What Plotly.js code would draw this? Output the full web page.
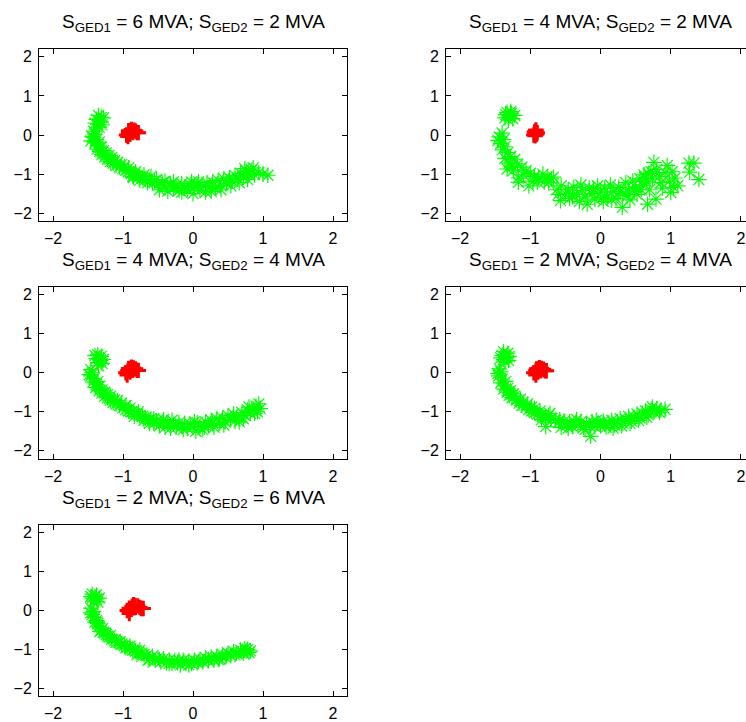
<!DOCTYPE html>
<html>
<head>
<meta charset="utf-8">
<script src="https://cdn.plot.ly/plotly-3.0.1.min.js"></script>
<style>
html,body{margin:0;padding:0;overflow:hidden;background:#fff;}
#chart{width:760px;height:722px;}
</style>
</head>
<body>
<div id="chart"></div>
<script>
// ---------- data ----------
const tickVals = [-2, -1, 0, 1, 2];

const titles = [
  "S<sub>GED1</sub> = 6 MVA; S<sub>GED2</sub> = 2 MVA",
  "S<sub>GED1</sub> = 4 MVA; S<sub>GED2</sub> = 2 MVA",
  "S<sub>GED1</sub> = 4 MVA; S<sub>GED2</sub> = 4 MVA",
  "S<sub>GED1</sub> = 2 MVA; S<sub>GED2</sub> = 4 MVA",
  "S<sub>GED1</sub> = 2 MVA; S<sub>GED2</sub> = 6 MVA"
];

// Panel 1 (6 / 2 MVA)
const gx1 = [-1.35,-1.31,-1.38,-1.32,-1.36,-1.30,-1.34,
  -1.40,-1.42,-1.38,-1.40,-1.36,-1.37,-1.33,-1.30,-1.26,-1.22,-1.18,-1.14,-1.10,-1.05,-1.00,-0.96,-0.92,-0.88,-0.84,-0.80,-0.76,-0.72,-0.68,-0.62,-0.58,-0.55,-0.50,-0.48,-0.44,-0.40,-0.36,-0.32,-0.28,-0.24,-0.20,-0.16,-0.12,-0.08,-0.04,0.00,0.02,0.06,0.10,0.14,0.18,0.20,0.24,0.28,0.32,0.36,0.40,0.44,0.48,0.52,0.56,0.60,0.64,0.68,0.72,0.76,0.80,0.84,0.88,0.94,1.00,1.07,
  -1.44,-1.34,-1.28,-1.20,-1.12,-1.02,-0.92,-0.82,-0.70,-0.85,-0.65,
  -1.42,-1.46,-1.32,-1.24,-1.16,-1.08,-0.98,-0.86,-0.76,-0.60,-0.52,-0.40,-0.28,-0.16,-0.02,0.08,0.26,0.40,0.54,0.66,0.78,0.86,0.74,-1.28,-1.40];
const gy1 = [0.50,0.45,0.40,0.34,0.28,0.26,0.20,
  0.02,-0.06,-0.12,-0.20,-0.28,-0.36,-0.42,-0.50,-0.56,-0.62,-0.68,-0.72,-0.78,-0.82,-0.86,-0.90,-0.94,-0.98,-1.00,-1.04,-1.06,-1.10,-1.14,-1.16,-1.22,-1.18,-1.28,-1.40,-1.22,-1.34,-1.44,-1.26,-1.36,-1.30,-1.42,-1.24,-1.34,-1.40,-1.28,-1.50,-1.34,-1.26,-1.42,-1.30,-1.46,-1.22,-1.34,-1.20,-1.36,-1.16,-1.28,-1.12,-1.24,-1.10,-1.18,-1.04,-1.12,-0.98,-1.08,-0.92,-1.00,-0.90,-1.02,-0.96,-1.00,-1.03,
  -0.05,-0.18,-0.40,-0.52,-0.66,-0.76,-0.84,-0.94,-1.02,-1.08,-1.22,
  0.10,-0.15,-0.32,-0.46,-0.58,-0.70,-0.80,-1.06,-1.16,-1.06,-1.14,-1.18,-1.20,-1.46,-1.20,-1.20,-1.44,-1.40,-1.30,-1.22,-1.14,-0.84,-0.86,0.44,0.30];
const rx1 = [-0.95,-0.92,-0.88,-0.84,-0.82,-0.90,-0.86,-0.93,-0.80,-0.78,-0.88,-0.92];
const ry1 = [0.00,0.06,0.10,0.12,0.10,0.02,0.06,-0.04,0.06,0.06,0.14,0.11];

// Panel 2 (4 / 2 MVA)
const gx2 = [-1.33,-1.27,-1.22,-1.30,-1.36,-1.25,-1.31,
  -1.40,-1.44,-1.38,-1.42,-1.36,-1.40,-1.32,-1.28,-1.36,-1.22,-1.30,-1.18,-1.33,-1.12,-1.24,-1.06,-1.17,-1.17,-1.00,-1.02,-0.94,-0.96,-0.88,-0.82,-0.80,-0.76,-0.70,-0.67,-0.62,
  -0.57,-0.56,-0.50,-0.46,-0.44,-0.38,-0.34,-0.30,-0.26,-0.22,-0.19,-0.16,-0.12,-0.08,-0.04,0.00,0.04,0.06,0.10,0.14,0.18,0.22,0.26,0.31,0.32,0.36,0.40,0.42,0.46,0.50,0.52,0.56,0.60,0.62,0.66,0.67,0.70,0.72,0.74,0.76,0.79,0.80,0.84,0.88,0.92,0.95,1.00,1.04,1.06,1.10,1.26,1.33,1.40,1.27,
  -1.28,-1.35,-1.46,-1.26,-1.10,-0.90,-0.74,-0.60,-0.40,-0.28,-0.10,0.02,0.16,0.28,0.38,0.48,0.58,0.64,0.68,0.86,0.98,1.02];
const gy2 = [0.58,0.56,0.50,0.48,0.44,0.42,0.38,
  0.05,-0.05,-0.12,-0.22,-0.30,-0.38,-0.45,-0.55,-0.60,-0.62,-0.72,-0.74,-0.87,-0.82,-0.90,-0.92,-1.10,-1.21,-0.98,-1.30,-1.06,-1.18,-1.10,-1.00,-1.20,-1.08,-1.12,-1.08,-1.40,
  -1.68,-1.30,-1.50,-1.40,-1.62,-1.34,-1.52,-1.70,-1.42,-1.58,-1.77,-1.36,-1.50,-1.64,-1.30,-1.46,-1.70,-1.36,-1.56,-1.28,-1.44,-1.62,-1.34,-1.85,-1.50,-1.22,-1.40,-1.66,-1.18,-1.34,-1.52,-1.12,-1.28,-1.02,-1.20,-1.77,-1.40,-0.94,-1.12,-0.70,-1.64,-0.88,-1.06,-1.36,-0.96,-0.78,-1.47,-1.34,-1.10,-1.30,-0.72,-0.72,-1.14,-0.95,
  0.60,0.52,-0.14,-0.80,-1.02,-1.20,-1.22,-1.52,-1.58,-1.28,-1.38,-1.60,-1.66,-1.46,-1.56,-1.44,-1.40,-1.10,-0.98,-1.22,-1.18,-0.94];
const rx2 = [-0.94,-0.92,-0.93,-0.91,-0.95,-0.90,-0.93,-0.92];
const ry2 = [0.08,0.10,0.04,0.02,0.00,0.06,-0.02,0.13];

// Panel 3 (4 / 4 MVA)
const gx3 = [-1.36,-1.31,-1.38,-1.32,-1.36,-1.30,-1.35,
  -1.44,-1.46,-1.41,-1.43,-1.38,-1.39,-1.34,-1.30,-1.26,-1.22,-1.18,-1.14,-1.10,-1.05,-1.00,-0.96,-0.92,-0.88,-0.84,-0.80,-0.76,-0.72,-0.68,-0.64,-0.60,-0.56,-0.52,-0.48,-0.44,-0.40,-0.36,-0.32,-0.28,-0.24,-0.20,-0.16,-0.12,-0.08,-0.04,0.00,0.04,0.06,0.10,0.14,0.18,0.22,0.26,0.30,0.34,0.38,0.42,0.46,0.50,0.54,0.58,0.62,0.66,0.70,0.74,0.78,0.82,0.86,0.90,0.92,0.96,0.94,
  -1.48,-1.36,-1.30,-1.22,-1.12,-1.02,-0.90,-0.78,-0.62,
  -1.46,-1.34,-1.26,-1.18,-1.08,-0.96,-0.84,-0.70,-0.56,-0.42,-0.30,-0.14,0.02,0.16,0.28,0.44,0.60,0.72,0.80,0.88,-1.40,-1.28];
const gy3 = [0.46,0.42,0.36,0.32,0.26,0.24,0.18,
  0.00,-0.08,-0.15,-0.24,-0.30,-0.38,-0.46,-0.52,-0.60,-0.64,-0.70,-0.76,-0.80,-0.84,-0.90,-0.94,-0.98,-1.00,-1.04,-1.06,-1.10,-1.12,-1.16,-1.22,-1.18,-1.30,-1.24,-1.36,-1.26,-1.40,-1.30,-1.42,-1.32,-1.40,-1.28,-1.38,-1.30,-1.42,-1.32,-1.40,-1.50,-1.28,-1.38,-1.46,-1.26,-1.36,-1.22,-1.40,-1.18,-1.30,-1.16,-1.26,-1.10,-1.20,-1.06,-1.14,-1.26,-1.02,-1.10,-0.96,-1.04,-0.94,-0.86,-1.00,-0.92,-0.80,
  -0.05,-0.22,-0.44,-0.56,-0.70,-0.78,-0.90,-1.00,-1.30,
  0.08,-0.36,-0.50,-0.60,-0.72,-0.84,-1.12,-1.22,-1.18,-1.20,-1.22,-1.46,-1.26,-1.40,-1.30,-1.34,-1.24,-1.18,-0.88,-1.04,0.44,0.34];
const rx3 = [-0.96,-0.93,-0.89,-0.85,-0.82,-0.90,-0.86,-0.94,-0.80,-0.78,-0.88,-0.92];
const ry3 = [0.00,0.06,0.10,0.12,0.10,0.02,0.06,-0.06,0.06,0.06,0.14,0.11];

// Panel 4 (2 / 4 MVA)
const gx4 = [-1.38,-1.32,-1.40,-1.34,-1.38,-1.31,-1.36,
  -1.42,-1.45,-1.40,-1.42,-1.37,-1.38,-1.33,-1.30,-1.26,-1.20,-1.16,-1.12,-1.06,-1.02,-0.98,-0.94,-0.90,-0.86,-0.82,-0.78,-0.78,-0.74,
  -0.60,-0.56,-0.52,-0.48,-0.44,-0.40,-0.36,-0.32,-0.28,-0.24,-0.20,-0.16,-0.14,-0.12,-0.08,-0.04,0.00,0.04,0.08,0.12,0.16,0.20,0.24,0.28,0.32,0.36,0.40,0.44,0.48,0.52,0.56,0.60,0.64,0.68,0.72,0.76,0.80,0.86,0.92,
  -1.46,-1.35,-1.28,-1.22,-1.10,-0.98,-0.86,-0.70,-0.64,
  -1.44,-1.32,-1.24,-1.14,-1.04,-0.94,-0.84,-0.72,-0.58,-0.46,-0.34,-0.22,-0.06,0.06,0.18,0.30,0.42,0.54,0.66,0.74,0.84,-1.42,-1.30];
const gy4 = [0.54,0.50,0.44,0.40,0.34,0.32,0.28,
  0.02,-0.08,-0.16,-0.26,-0.34,-0.42,-0.50,-0.58,-0.64,-0.70,-0.78,-0.84,-0.88,-0.94,-0.98,-1.02,-1.06,-1.10,-1.12,-1.16,-1.38,-1.10,
  -1.28,-1.40,-1.24,-1.34,-1.26,-1.38,-1.28,-1.36,-1.26,-1.40,-1.30,-1.36,-1.63,-1.26,-1.38,-1.30,-1.36,-1.24,-1.40,-1.30,-1.22,-1.34,-1.26,-1.18,-1.30,-1.20,-1.12,-1.24,-1.14,-1.06,-1.16,-1.04,-0.98,-1.08,-0.94,-1.00,-0.92,-0.96,-0.94,
  -0.02,-0.22,-0.46,-0.60,-0.76,-0.88,-0.98,-1.18,-1.22,
  0.10,-0.40,-0.54,-0.68,-0.80,-0.92,-1.20,-1.04,-1.20,-1.42,-1.20,-1.46,-1.22,-1.32,-1.42,-1.36,-1.30,-1.22,-1.14,-0.88,-1.02,0.38,0.42];
const rx4 = [-0.95,-0.92,-0.88,-0.84,-0.81,-0.89,-0.85,-0.92,-0.79,-0.77,-0.87,-0.91];
const ry4 = [0.00,0.06,0.10,0.11,0.09,0.02,0.05,-0.06,0.05,0.05,0.13,0.10];

// Panel 5 (2 / 6 MVA)
const gx5 = [-1.44,-1.38,-1.44,-1.38,-1.42,-1.36,-1.40,
  -1.42,-1.44,-1.41,-1.38,-1.36,-1.34,-1.31,-1.28,-1.24,-1.20,-1.16,-1.12,-1.07,-1.02,-0.98,-0.94,-0.90,-0.86,-0.82,-0.78,-0.74,-0.70,-0.66,-0.62,-0.58,-0.54,-0.50,-0.46,-0.42,-0.38,-0.34,-0.30,-0.26,-0.22,-0.18,-0.14,-0.10,-0.06,-0.02,0.02,0.06,0.10,0.14,0.18,0.22,0.26,0.30,0.34,0.38,0.42,0.46,0.50,0.54,0.58,0.62,0.68,0.72,0.76,0.80,0.74,
  -1.46,-1.37,-1.29,-1.18,-1.04,-0.90,-0.76,
  -1.46,-1.40,-1.33,-1.22,-1.10,-0.96,-0.80,-0.64,-0.48,-0.34,-0.20,-0.06,0.08,0.22,0.36,0.48,0.60,0.70,0.78,0.82,-1.46,-1.34];
const gy5 = [0.42,0.40,0.32,0.30,0.24,0.22,0.36,
  -0.02,-0.10,-0.18,-0.26,-0.34,-0.42,-0.50,-0.56,-0.62,-0.68,-0.74,-0.78,-0.82,-0.86,-0.90,-0.94,-0.98,-1.02,-1.04,-1.08,-1.10,-1.14,-1.16,-1.24,-1.18,-1.28,-1.22,-1.32,-1.24,-1.34,-1.28,-1.36,-1.28,-1.34,-1.40,-1.28,-1.36,-1.30,-1.36,-1.28,-1.34,-1.26,-1.32,-1.22,-1.30,-1.20,-1.28,-1.18,-1.24,-1.14,-1.20,-1.10,-1.16,-1.06,-1.10,-1.02,-1.10,-1.04,-1.08,-0.98,
  -0.06,-0.30,-0.46,-0.64,-0.80,-0.92,-1.02,
  0.06,-0.30,-0.54,-0.66,-0.82,-0.96,-1.14,-1.28,-1.26,-1.36,-1.28,-1.40,-1.32,-1.26,-1.26,-1.16,-1.14,-1.06,-1.00,-1.04,0.36,0.32];
const rx5 = [-0.94,-0.91,-0.87,-0.83,-0.79,-0.76,-0.88,-0.84,-0.91,-0.74,-0.71,-0.85];
const ry5 = [0.00,0.06,0.11,0.13,0.12,0.08,0.03,0.07,-0.08,0.05,0.05,0.15];

// ---------- layout ----------
const W = 760, H = 722;
const colPx = [[39, 347], [446, 755]];
const rowPx = [[49, 221], [287, 458.5], [525, 696]];
const cells = [[0,0],[0,1],[1,0],[1,1],[2,0]];
const greens = [[gx1,gy1],[gx2,gy2],[gx3,gy3],[gx4,gy4],[gx5,gy5]];
const reds = [[rx1,ry1],[rx2,ry2],[rx3,ry3],[rx4,ry4],[rx5,ry5]];

const FONT = 'Liberation Sans, Arial, sans-serif';
const traces = [];
const layout = {
  width: W, height: H,
  margin: {l:0, r:0, t:0, b:0},
  paper_bgcolor: '#fff', plot_bgcolor: '#fff',
  showlegend: false,
  font: {family: FONT, color: '#000', size: 16},
  annotations: []
};

cells.forEach((rc, i) => {
  const n = i + 1;
  const xa = 'xaxis' + (n === 1 ? '' : n), ya = 'yaxis' + (n === 1 ? '' : n);
  const xr = 'x' + (n === 1 ? '' : n), yr = 'y' + (n === 1 ? '' : n);
  const cp = colPx[rc[1]], rp = rowPx[rc[0]];
  const axCommon = {
    range: [-2.2, 2.2], tickvals: tickVals, showgrid: false, zeroline: false,
    showline: true, linecolor: '#000', linewidth: 1, mirror: 'allticks',
    ticks: 'inside', ticklen: 5, tickwidth: 1, tickcolor: '#000',
    tickfont: {family: FONT, size: 16, color: '#000'}, fixedrange: true
  };
  layout[xa] = Object.assign({}, axCommon, {
    domain: [cp[0] / W, cp[1] / W], anchor: yr, ticklabelstandoff: 3
  });
  layout[ya] = Object.assign({}, axCommon, {
    domain: [1 - rp[1] / H, 1 - rp[0] / H], anchor: xr, ticklabelstandoff: 3
  });
  traces.push({
    type: 'scatter', mode: 'markers', x: greens[i][0], y: greens[i][1],
    xaxis: xr, yaxis: yr,
    marker: {symbol: 'asterisk-open', size: 13, color: '#00ff00', line: {color: '#00ff00', width: 1.2}},
    hoverinfo: 'skip'
  });
  traces.push({
    type: 'scatter', mode: 'markers', x: reds[i][0], y: reds[i][1],
    xaxis: xr, yaxis: yr,
    marker: {symbol: 'cross-thin-open', size: 11, color: '#ff0000', line: {color: '#ff0000', width: 3}},
    hoverinfo: 'skip'
  });
  layout.annotations.push({
    text: titles[i], showarrow: false, xref: 'paper', yref: 'paper',
    x: ((cp[0] + cp[1]) / 2) / W, y: 1 - (rp[0] - 26) / H,
    xanchor: 'center', yanchor: 'middle',
    font: {family: FONT, size: 19, color: '#000'}
  });
});

Plotly.newPlot('chart', traces, layout, {staticPlot: true, displayModeBar: false});
</script>
</body>
</html>
